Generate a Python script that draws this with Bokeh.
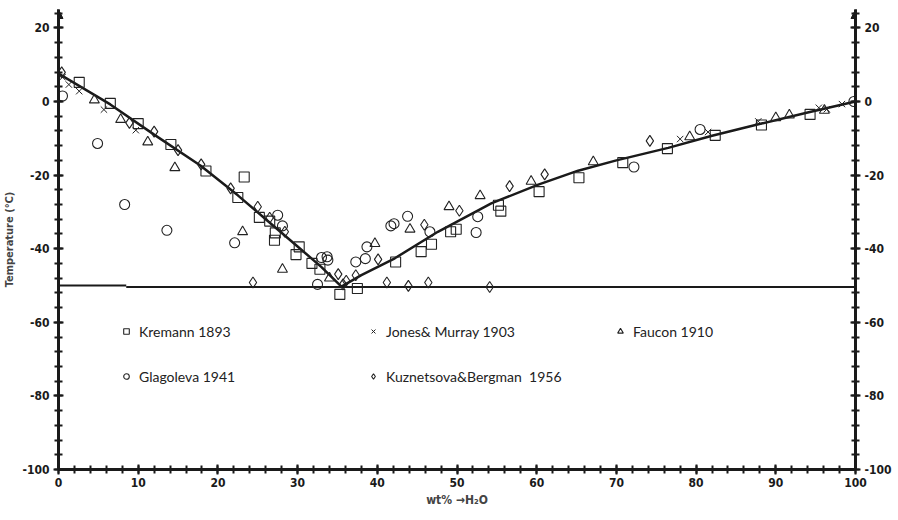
from bokeh.plotting import figure
from bokeh.models import (FixedTicker, LinearAxis, Range1d, Legend, LegendItem,
                          Arrow, NormalHead)
from bokeh.embed import file_html
from bokeh.resources import INLINE

# ---- data ----
kremann_x = [2.6, 6.5, 10.0, 14.1, 18.5, 23.3, 22.5, 25.2, 26.5, 27.2, 27.1, 29.8, 30.2, 31.8, 32.8,
             35.3, 37.5, 42.3, 45.5, 46.8, 49.2, 49.9, 55.2, 55.5, 60.3, 65.3, 70.8, 76.4, 82.4, 88.2, 94.3]
kremann_y = [5.2, -0.5, -6.0, -11.7, -18.9, -20.5, -26.1, -31.5, -32.5, -35.7, -37.7, -41.6, -39.5, -44.0, -45.6,
             -52.4, -50.8, -43.6, -40.8, -38.8, -35.4, -34.7, -28.2, -29.8, -24.5, -20.7, -16.6, -12.8, -9.2, -6.4, -3.5]

jones_x = [0.5, 1.3, 2.6, 5.7, 9.7, 78.0, 81.5, 87.8, 95.4, 96.4, 98.3]
jones_y = [6.6, 4.6, 2.8, -2.2, -7.8, -10.2, -8.3, -5.4, -1.7, -2.1, -0.7]

faucon_x = [4.5, 7.8, 11.2, 14.6, 23.1, 28.1, 34.0, 39.7, 44.1, 49.0, 52.9, 59.3, 67.1, 79.2, 90.0, 91.7, 96.1]
faucon_y = [0.4, -4.9, -11.0, -18.0, -35.4, -45.6, -48.0, -38.6, -34.7, -28.6, -25.6, -21.7, -16.4, -9.6, -4.4, -3.7, -2.4]

glag_x = [0.5, 4.9, 8.3, 13.6, 22.1, 27.5, 28.1, 32.5, 33.0, 33.7, 33.8, 37.3, 38.5, 38.7, 41.7, 42.1,
          43.8, 46.6, 52.4, 52.6, 72.2, 80.5, 99.8]
glag_y = [1.5, -11.4, -28.0, -35.0, -38.4, -30.9, -33.8, -49.7, -42.4, -42.2, -43.1, -43.6, -42.7, -39.5, -33.8, -33.2,
          -31.2, -35.4, -35.6, -31.3, -17.8, -7.6, 0.0]

kuz_x = [0.4, 8.9, 12.0, 15.0, 17.9, 21.6, 24.4, 25.0, 26.5, 28.4, 35.1, 35.7, 36.1, 37.3, 40.1, 41.2,
         43.9, 45.9, 46.4, 50.3, 54.1, 56.6, 61.0, 74.2]
kuz_y = [7.9, -5.8, -8.2, -13.2, -17.1, -23.6, -49.2, -28.6, -31.6, -35.4, -46.9, -49.7, -48.7, -47.2, -42.9, -49.2,
         -50.1, -33.5, -49.2, -29.7, -50.4, -23.0, -19.8, -10.7]

curve_x = [0, 6.5, 12, 17.8, 22.5, 26, 30, 33, 35.5, 38, 42.2, 47.6, 54.3, 60.2, 65.2, 70, 76.5, 82, 88.2, 94, 100]
curve_y = [7.6, -0.8, -9.0, -17.4, -25.5, -32.0, -39.4, -45.0, -50.3, -47.2, -42.6, -35.4, -27.7, -22.6, -18.8,
           -16.0, -12.6, -9.3, -6.0, -3.0, 0.0]

eutectic_left_x = [0, 8.5]
eutectic_left_y = [-50.0, -50.0]
eutectic_right_x = [8.5, 100]
eutectic_right_y = [-50.4, -50.4]

x_ticks = [0, 10, 20, 30, 40, 50, 60, 70, 80, 90, 100]
x_minor = list(range(0, 101, 2))
y_ticks = [-100, -80, -60, -40, -20, 0, 20]
y_tick_labels = ["-100", "-80", "-60", "-40", "-20", "0", "20"]
y_minor = list(range(-100, 25, 4))

labels = ["Kremann 1893", "Jones& Murray 1903", "Faucon 1910", "Glagoleva 1941", "Kuznetsova&Bergman  1956"]

TICK_FONT = "'DejaVu Sans Condensed', 'Liberation Sans', sans-serif"
LEG_FONT = "Lato"

p = figure(width=894, height=511, output_backend="svg", toolbar_location=None,
           x_range=Range1d(0, 100), y_range=Range1d(-100, 25),
           x_axis_location=None, y_axis_location=None,
           min_border_left=53, min_border_right=36, min_border_top=9, min_border_bottom=42)
p.outline_line_color = None
p.xgrid.visible = False
p.ygrid.visible = False
p.background_fill_color = "white"

def style_axis(ax):
    ax.axis_line_width = 3
    ax.axis_line_color = "#1a1a1a"
    ax.major_tick_in = 5
    ax.major_tick_out = 5
    ax.minor_tick_in = 4
    ax.minor_tick_out = 4
    ax.major_tick_line_width = 2
    ax.minor_tick_line_width = 2
    ax.major_tick_line_color = "#1a1a1a"
    ax.minor_tick_line_color = "#1a1a1a"
    ax.major_label_text_font = TICK_FONT
    ax.major_label_text_font_style = "bold"
    ax.major_label_text_font_size = "12px"
    ax.major_label_text_color = "#1a1a1a"
    ax.major_label_standoff = 4

y_overrides = {t: s for t, s in zip(y_ticks, y_tick_labels)}

left = LinearAxis(ticker=FixedTicker(ticks=y_ticks, minor_ticks=y_minor))
style_axis(left)
left.major_label_overrides = y_overrides
left.axis_label = "Temperature (°C)"
left.axis_label_text_font = TICK_FONT
left.axis_label_text_font_style = "bold"
left.axis_label_text_font_size = "11px"
left.axis_label_standoff = 3
p.add_layout(left, "left")

right = LinearAxis(ticker=FixedTicker(ticks=y_ticks, minor_ticks=y_minor))
style_axis(right)
right.major_label_overrides = y_overrides
p.add_layout(right, "right")

bottom = LinearAxis(ticker=FixedTicker(ticks=x_ticks, minor_ticks=x_minor))
style_axis(bottom)
bottom.major_label_standoff = 3
bottom.axis_label = "wt% \u2192H\u2082O"
bottom.axis_label_text_font = TICK_FONT
bottom.axis_label_text_font_style = "bold"
bottom.axis_label_text_font_size = "12px"
bottom.axis_label_standoff = 3
p.add_layout(bottom, "below")

# arrow heads on the vertical axes
for xa in (0, 100):
    p.add_layout(Arrow(end=NormalHead(size=9, fill_color="#1a1a1a", line_color="#1a1a1a"),
                       line_width=3, line_color="#1a1a1a",
                       x_start=xa, y_start=21, x_end=xa, y_end=25))

# eutectic line and liquidus curve
p.line(eutectic_left_x, eutectic_left_y, line_color="#1a1a1a", line_width=2)
p.line(eutectic_right_x, eutectic_right_y, line_color="#1a1a1a", line_width=2)
p.line(curve_x, curve_y, line_color="#1a1a1a", line_width=2.5)

common = dict(line_color="#222222", fill_color=None, line_width=1.1)
r1 = p.scatter(kremann_x, kremann_y, marker="square", size=10, **common)
r2 = p.scatter(jones_x, jones_y, marker="x", size=9, line_color="#222222", line_width=1)
r3 = p.scatter(faucon_x, faucon_y, marker="triangle", size=10, **common)
r4 = p.scatter(glag_x, glag_y, marker="circle", size=10, **common)
r5 = p.scatter(kuz_x, kuz_y, marker="diamond", size=11, **common)

# legend (column-major fill: Kremann/Glagoleva, Jones/Kuznetsova, Faucon)
legend = Legend(items=[LegendItem(label=labels[0], renderers=[r1]),
                       LegendItem(label=labels[3], renderers=[r4]),
                       LegendItem(label=labels[1], renderers=[r2]),
                       LegendItem(label=labels[4], renderers=[r5]),
                       LegendItem(label=labels[2], renderers=[r3])],
                ncols=3, location=(61, 83),
                glyph_width=14, glyph_height=14, label_standoff=6,
                label_width=202, label_height=20, spacing=25,
                padding=0, margin=0, border_line_color=None, background_fill_alpha=0,
                label_text_font=LEG_FONT, label_text_font_size="14px", label_text_color="#222222")
p.add_layout(legend, "center")

open("out.html", "w").write(file_html(p, INLINE))
